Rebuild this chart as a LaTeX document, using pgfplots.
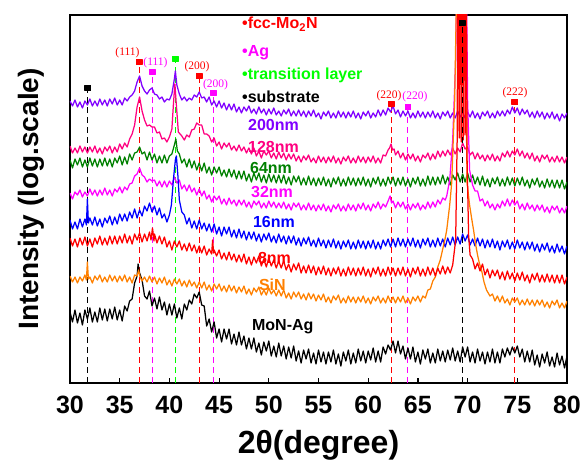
\documentclass[border=0pt]{standalone}
\usepackage{fontspec}
\setmainfont{Liberation Sans}
\newfontfamily\idxfont{Liberation Serif}
\usepackage{pgfplots}
\pgfplotsset{compat=1.18}
\usetikzlibrary{calc}

\definecolor{cviolet}{RGB}{128,0,255}
\definecolor{cpink}{RGB}{255,0,128}
\definecolor{cgreen}{RGB}{0,128,0}
\definecolor{cmag}{RGB}{255,0,255}
\definecolor{cblue}{RGB}{0,0,255}
\definecolor{cred}{RGB}{255,0,0}
\definecolor{corange}{RGB}{255,128,0}
\definecolor{clime}{RGB}{0,255,0}

\begin{document}
\begin{tikzpicture}[
	idx/.style={font=\idxfont\fontsize{11.5}{12}\selectfont, inner sep=0pt},
	lab/.style={font=\fontsize{16}{16}\selectfont\bfseries, anchor=west, inner sep=0pt},
]
\begin{axis}[
	name=ax,
	scale only axis,
	width=497pt, height=368pt,
	xmin=30, xmax=80, ymin=17, ymax=385,
	xtick={30,35,...,80}, ytick=\empty,
	xtick pos=bottom, tick align=inside,
	major tick length=5pt,
	every tick/.style={black, line width=1.2pt},
	axis line style={line width=1.6pt},
	/pgf/number format/assume math mode=true,
	xticklabel style={font=\fontsize{25}{25}\selectfont\bfseries, anchor=center, inner sep=0pt, yshift=-22pt},
	xlabel={2θ(degree)},
	ylabel={Intensity (log.scale)},
	xlabel style={font=\fontsize{32}{32}\selectfont\bfseries, at={(axis description cs:0.5,-0.168)}, anchor=center},
	ylabel style={font=\fontsize{28}{28}\selectfont\bfseries, at={(axis description cs:-0.078,0.5)}, anchor=center},
	every axis plot/.append style={line width=1.25pt, line join=round},
]

% reference lines (drawn under the patterns)
\addplot[black, line width=1pt, dash pattern=on 6pt off 4pt] coordinates {(31.8,17)(31.8,312)};
\addplot[cred, line width=1pt, dash pattern=on 6pt off 4pt] coordinates {(36.95,17)(36.95,338)};
\addplot[cmag, line width=1pt, dash pattern=on 6pt off 4pt] coordinates {(38.3,17)(38.3,328)};
\addplot[clime, line width=1pt, dash pattern=on 6pt off 4pt] coordinates {(40.6,17)(40.6,341)};
\addplot[cred, line width=1pt, dash pattern=on 6pt off 4pt] coordinates {(43.0,17)(43.0,324)};
\addplot[cmag, line width=1pt, dash pattern=on 6pt off 4pt] coordinates {(44.45,17)(44.45,307)};
\addplot[cred, line width=1pt, dash pattern=on 6pt off 4pt] coordinates {(62.35,17)(62.35,296)};
\addplot[cmag, line width=1pt, dash pattern=on 6pt off 4pt] coordinates {(64.0,17)(64.0,293)};
\addplot[cred, line width=1pt, dash pattern=on 6pt off 4pt] coordinates {(74.75,17)(74.75,298)};

% MoN-Ag
\addplot[black] coordinates {
(30,88)(30.25,78)(30.5,90)(30.75,77)(31,87)(31.25,75)(31.5,90)(31.75,81)(32,92)(32.25,78)(32.5,88)(32.75,78)(33,92)(33.25,80)(33.5,91)(33.75,79)
(34,91)(34.25,81)(34.5,93)(34.75,80)(35,90)(35.25,79)(35.5,94)(35.75,89)(36,99)(36.25,101)(36.5,117)(36.75,124)(36.85,136)(37,127)(37.25,120)(37.5,104)
(37.75,101)(38,109)(38.25,94)(38.5,102)(38.75,91)(39,103)(39.25,90)(39.5,98)(39.75,85)(40,96)(40.25,85)(40.5,96)(40.75,82)(41,92)(41.25,81)(41.5,96)
(41.75,90)(42,100)(42.25,96)(42.5,106)(42.75,102)(43,108)(43.25,95)(43.5,94)(43.75,74)(44,81)(44.25,68)(44.5,78)(44.75,62)(45,71)(45.25,58)(45.5,71)
(45.75,61)(46,71)(46.25,56)(46.5,66)(46.75,55)(47,68)(47.25,55)(47.5,64)(47.75,51)(48,62)(48.25,51)(48.5,62)(48.75,48)(49,57)(49.25,45)(49.5,58)
(49.75,49)(50,59)(50.25,44)(50.5,54)(50.75,43)(51,57)(51.25,44)(51.5,54)(51.75,41)(52,53)(52.25,42)(52.5,54)(52.75,39)(53,49)(53.25,37)(53.5,50)
(53.75,41)(54,51)(54.25,37)(54.5,47)(54.75,36)(55,50)(55.25,38)(55.5,48)(55.75,36)(56,48)(56.25,38)(56.5,50)(56.75,36)(57,46)(57.25,34)(57.5,48)
(57.75,39)(58,50)(58.25,36)(58.5,47)(58.75,37)(59,51)(59.25,39)(59.5,49)(59.75,37)(60,49)(60.25,40)(60.5,52)(60.75,38)(61,49)(61.25,38)(61.5,53)
(61.75,46)(62,55)(62.25,50)(62.5,59)(62.75,47)(63,59)(63.25,46)(63.5,54)(63.75,41)(64,52)(64.25,41)(64.5,53)(64.75,38)(65,48)(65.25,36)(65.5,50)
(65.75,41)(66,51)(66.25,37)(66.5,47)(66.75,37)(67,51)(67.25,39)(67.5,49)(67.75,38)(68,50)(68.25,40)(68.5,52)(68.75,39)(69,49)(69.25,38)(69.5,53)
(69.75,43)(70,53)(70.25,38)(70.5,48)(70.75,37)(71,51)(71.25,39)(71.5,48)(71.75,36)(72,48)(72.25,38)(72.5,51)(72.75,37)(73,48)(73.25,37)(73.5,51)
(73.75,43)(74,52)(74.25,45)(74.5,53)(74.75,47)(75,54)(75.25,43)(75.5,51)(75.75,38)(76,49)(76.25,38)(76.5,50)(76.75,35)(77,45)(77.25,33)(77.5,46)
(77.75,37)(78,48)(78.25,34)(78.5,43)(78.75,33)(79,47)(79.25,35)(79.5,44)(79.75,32)(80,44)};

% 200nm
\addplot[cviolet] coordinates {
(30,299)(30.25,294)(30.5,300)(30.75,293)(31,298)(31.25,292)(31.5,299)(31.75,295)(32,301)(32.25,294)(32.5,299)(32.75,294)(33,301)(33.25,295)(33.5,300)(33.75,294)
(34,301)(34.25,296)(34.5,302)(34.75,295)(35,300)(35.25,295)(35.5,302)(35.75,299)(36,303)(36.25,305)(36.5,309)(36.75,318)(37,324)(37.25,314)(37.5,309)(37.75,306)
(38,310)(38.25,312)(38.5,306)(38.75,305)(39,301)(39.25,303)(39.5,298)(39.75,301)(40,300)(40.25,306)(40.5,321)(40.6,329)(40.75,315)(41,306)(41.25,300)(41.5,303)
(41.75,299)(42,302)(42.25,300)(42.5,305)(42.75,303)(43,308)(43.25,302)(43.5,303)(43.75,298)(44,303)(44.25,295)(44.5,299)(44.75,293)(45,299)(45.25,292)(45.5,297)
(45.75,290)(46,296)(46.25,290)(46.5,296)(46.75,288)(47,293)(47.25,287)(47.5,293)(47.75,289)(48,294)(48.25,287)(48.5,291)(48.75,286)(49,293)(49.25,287)(49.5,291)
(49.75,285)(50,291)(50.25,286)(50.5,292)(50.75,285)(51,289)(51.25,284)(51.5,290)(51.75,286)(52,291)(52.25,284)(52.5,289)(52.75,284)(53,290)(53.25,284)(53.5,289)
(53.75,283)(54,289)(54.25,284)(54.5,290)(54.75,283)(55,287)(55.25,281)(55.5,288)(55.75,284)(56,289)(56.25,282)(56.5,287)(56.75,282)(57,289)(57.25,283)(57.5,288)
(57.75,282)(58,288)(58.25,283)(58.5,289)(58.75,282)(59,287)(59.25,281)(59.5,288)(59.75,284)(60,289)(60.25,282)(60.5,287)(60.75,283)(61,290)(61.25,284)(61.5,290)
(61.75,285)(62,292)(62.25,288)(62.5,294)(62.75,286)(63,290)(63.25,283)(63.5,289)(63.75,284)(64,289)(64.25,282)(64.5,287)(64.75,282)(65,289)(65.25,283)(65.5,288)
(65.75,282)(66,288)(66.25,283)(66.5,289)(66.75,282)(67,287)(67.25,281)(67.5,288)(67.75,284)(68,289)(68.25,282)(68.5,287)(68.75,282)(69,289)(69.25,283)(69.5,288)
(69.75,282)(70,288)(70.25,283)(70.5,289)(70.75,282)(71,287)(71.25,281)(71.5,288)(71.75,284)(72,289)(72.25,282)(72.5,287)(72.75,282)(73,289)(73.25,284)(73.5,289)
(73.75,284)(74,290)(74.25,286)(74.5,293)(74.75,287)(75,292)(75.25,285)(75.5,291)(75.75,286)(76,290)(76.25,283)(76.5,288)(76.75,282)(77,289)(77.25,283)(77.5,288)
(77.75,281)(78,287)(78.25,282)(78.5,288)(78.75,281)(79,286)(79.25,279)(79.5,286)(79.75,282)(80,287)};

% 128nm
\addplot[cpink] coordinates {
(30,254)(30.25,247)(30.5,252)(30.75,247)(31,254)(31.25,248)(31.5,253)(31.75,247)(32,253)(32.25,248)(32.5,254)(32.75,247)(33,252)(33.25,246)(33.5,253)(33.75,249)
(34,254)(34.25,247)(34.5,253)(34.75,248)(35,256)(35.25,251)(35.5,257)(35.75,253)(36,261)(36.25,266)(36.5,275)(36.75,293)(37,303)(37.25,289)(37.5,280)(37.75,274)
(38,275)(38.25,273)(38.5,273)(38.75,267)(39,268)(39.25,261)(39.5,262)(39.75,258)(40,263)(40.25,271)(40.4,295)(40.55,316)(40.7,295)(40.9,268)(41.25,264)(41.5,260)
(41.75,265)(42,263)(42.25,270)(42.5,271)(42.75,277)(43,275)(43.25,275)(43.5,266)(43.75,266)(44,264)(44.25,258)(44.5,262)(44.75,254)(45,258)(45.25,251)(45.5,257)
(45.75,253)(46,257)(46.25,250)(46.5,254)(46.75,249)(47,255)(47.25,249)(47.5,253)(47.75,247)(48,252)(48.25,246)(48.5,252)(48.75,244)(49,249)(49.25,242)(49.5,249)
(49.75,245)(50,249)(50.25,242)(50.5,247)(50.75,241)(51,248)(51.25,242)(51.5,247)(51.75,240)(52,246)(52.25,241)(52.5,246)(52.75,239)(53,244)(53.25,238)(53.5,244)
(53.75,240)(54,245)(54.25,238)(54.5,242)(54.75,237)(55,244)(55.25,238)(55.5,243)(55.75,237)(56,243)(56.25,238)(56.5,244)(56.75,237)(57,242)(57.25,236)(57.5,243)
(57.75,239)(58,244)(58.25,237)(58.5,242)(58.75,237)(59,244)(59.25,238)(59.5,243)(59.75,237)(60,243)(60.25,238)(60.5,244)(60.75,237)(61,242)(61.25,237)(61.5,245)
(61.75,244)(62,250)(62.15,252)(62.3,256)(62.45,250)(62.6,251)(62.75,245)(63,249)(63.25,242)(63.5,247)(63.75,240)(64,246)(64.25,241)(64.5,246)(64.75,239)(65,244)
(65.25,238)(65.5,245)(65.75,242)(66,247)(66.25,240)(66.5,246)(66.75,241)(67,249)(67.25,243)(67.5,249)(67.75,244)(68,250)(68.25,245)(68.5,252)(68.75,246)(69,252)
(69.25,248)(69.5,257)(69.75,251)(70,253)(70.25,245)(70.5,248)(70.75,241)(71,247)(71.25,241)(71.5,245)(71.75,239)(72,245)(72.25,240)(72.5,246)(72.75,239)(73,244)
(73.25,239)(73.5,247)(73.75,243)(74,249)(74.25,243)(74.5,249)(74.75,245)(75,251)(75.25,244)(75.5,249)(75.75,242)(76,247)(76.25,241)(76.5,247)(76.75,239)(77,244)
(77.25,238)(77.5,245)(77.75,241)(78,245)(78.25,238)(78.5,243)(78.75,238)(79,244)(79.25,238)(79.5,243)(79.75,237)(80,243)};

% 64nm
\addplot[cgreen] coordinates {
(30,240)(30.25,232)(30.5,241)(30.75,235)(31,242)(31.25,233)(31.5,240)(31.75,233)(32,242)(32.25,234)(32.5,241)(32.75,233)(33,241)(33.25,234)(33.5,242)(33.75,234)
(34,241)(34.25,233)(34.5,242)(34.75,237)(35,244)(35.25,235)(35.5,243)(35.75,236)(36,246)(36.25,240)(36.5,247)(36.75,248)(37,253)(37.25,246)(37.5,248)(37.75,240)
(38,248)(38.25,240)(38.5,246)(38.75,237)(39,244)(39.25,237)(39.5,245)(39.75,237)(40,244)(40.25,246)(40.5,255)(40.65,261)(40.8,249)(41,246)(41.25,237)(41.5,241)
(41.75,233)(42,241)(42.25,232)(42.5,239)(42.75,230)(43,237)(43.25,229)(43.5,237)(43.75,227)(44,233)(44.25,225)(44.5,233)(44.75,227)(45,233)(45.25,224)(45.5,230)
(45.75,223)(46,231)(46.25,223)(46.5,230)(46.75,221)(47,229)(47.25,221)(47.5,229)(47.75,219)(48,226)(48.25,218)(48.5,227)(48.75,220)(49,227)(49.25,218)(49.5,225)
(49.75,217)(50,226)(50.25,218)(50.5,225)(50.75,217)(51,225)(51.25,217)(51.5,225)(51.75,216)(52,223)(52.25,215)(52.5,224)(52.75,218)(53,224)(53.25,215)(53.5,222)
(53.75,215)(54,224)(54.25,215)(54.5,222)(54.75,214)(55,222)(55.25,215)(55.5,223)(55.75,214)(56,221)(56.25,213)(56.5,222)(56.75,216)(57,223)(57.25,214)(57.5,221)
(57.75,214)(58,223)(58.25,215)(58.5,222)(58.75,214)(59,222)(59.25,215)(59.5,223)(59.75,214)(60,221)(60.25,213)(60.5,222)(60.75,216)(61,223)(61.25,214)(61.5,221)
(61.75,214)(62,223)(62.25,216)(62.5,223)(62.75,214)(63,222)(63.25,215)(63.5,223)(63.75,214)(64,221)(64.25,213)(64.5,222)(64.75,216)(65,223)(65.25,214)(65.5,221)
(65.75,214)(66,224)(66.25,215)(66.5,223)(66.75,215)(67,223)(67.25,216)(67.5,225)(67.75,216)(68,223)(68.25,215)(68.5,225)(68.75,220)(69,227)(69.25,218)(69.5,226)
(69.75,218)(70,227)(70.25,218)(70.5,225)(70.75,216)(71,223)(71.25,215)(71.5,224)(71.75,214)(72,221)(72.25,213)(72.5,222)(72.75,216)(73,223)(73.25,214)(73.5,221)
(73.75,214)(74,223)(74.25,215)(74.5,222)(74.75,214)(75,222)(75.25,215)(75.5,223)(75.75,214)(76,220)(76.25,212)(76.5,221)(76.75,215)(77,222)(77.25,213)(77.5,219)
(77.75,212)(78,221)(78.25,213)(78.5,220)(78.75,212)(79,220)(79.25,212)(79.5,220)(79.75,211)(80,218)};

% 32nm
\addplot[cmag] coordinates {
(30,207)(30.25,201)(30.5,208)(30.75,205)(31,210)(31.25,203)(31.5,208)(31.75,204)(32,211)(32.25,205)(32.5,210)(32.75,204)(33,210)(33.25,205)(33.5,212)(33.75,205)
(34,210)(34.25,204)(34.5,211)(34.75,208)(35,213)(35.25,207)(35.5,213)(35.75,210)(36,216)(36.25,217)(36.5,224)(36.75,226)(37,232)(37.25,225)(37.5,223)(37.75,218)
(38,221)(38.25,219)(38.5,220)(38.75,214)(39,219)(39.25,213)(39.5,219)(39.75,213)(40,219)(40.25,215)(40.5,223)(40.75,217)(41,220)(41.25,211)(41.5,215)(41.75,209)
(42,215)(42.25,208)(42.5,212)(42.75,205)(43,211)(43.25,204)(43.5,209)(43.75,201)(44,205)(44.25,198)(44.5,204)(44.75,200)(45,204)(45.25,196)(45.5,201)(45.75,195)
(46,202)(46.25,196)(46.5,200)(46.75,194)(47,200)(47.25,195)(47.5,200)(47.75,193)(48,198)(48.25,192)(48.5,199)(48.75,195)(49,199)(49.25,192)(49.5,197)(49.75,192)
(50,199)(50.25,193)(50.5,198)(50.75,192)(51,197)(51.25,192)(51.5,198)(51.75,191)(52,196)(52.25,190)(52.5,197)(52.75,193)(53,197)(53.25,190)(53.5,195)(53.75,190)
(54,197)(54.25,190)(54.5,195)(54.75,189)(55,195)(55.25,190)(55.5,196)(55.75,189)(56,194)(56.25,188)(56.5,195)(56.75,191)(57,196)(57.25,189)(57.5,194)(57.75,189)
(58,196)(58.25,190)(58.5,195)(58.75,189)(59,196)(59.25,191)(59.5,197)(59.75,190)(60,195)(60.25,189)(60.5,196)(60.75,192)(61,198)(61.25,191)(61.5,196)(61.75,193)
(62,199)(62.2,204)(62.35,197)(62.5,199)(62.75,192)(63,198)(63.25,193)(63.5,198)(63.75,191)(64,196)(64.25,190)(64.5,196)(64.75,192)(65,197)(65.25,190)(65.5,195)
(65.75,191)(66,198)(66.25,192)(66.5,198)(66.75,193)(67,200)(67.25,196)(67.5,202)(67.75,200)(67.9,204)(68.2,220)(68.5,260)(68.8,340)(69,500)(69.8,500)(70,300)
(70.2,230)(70.5,215)(70.75,209)(71,209)(71.25,199)(71.5,201)(71.75,194)(72,199)(72.25,192)(72.5,196)(72.75,190)(73,196)(73.25,192)(73.5,199)(73.75,194)(74,201)
(74.25,194)(74.5,200)(74.75,195)(75,199)(75.25,191)(75.5,196)(75.75,190)(76,197)(76.25,191)(76.5,195)(76.75,189)(77,195)(77.25,190)(77.5,195)(77.75,188)(78,193)
(78.25,187)(78.5,194)(78.75,190)(79,194)(79.25,187)(79.5,192)(79.75,187)(80,194)};

% 16nm
\addplot[cblue] coordinates {
(30,180)(30.25,171)(30.5,178)(30.75,171)(31,181)(31.25,173)(31.5,181)(31.65,175)(31.75,201)(31.85,177)(32,182)(32.25,175)(32.5,183)(32.75,174)(33,181)(33.25,173)
(33.5,182)(33.75,177)(34,184)(34.25,175)(34.5,183)(34.75,176)(35,186)(35.25,179)(35.5,186)(35.75,179)(36,188)(36.25,182)(36.5,191)(36.75,182)(37,190)(37.25,184)
(37.5,194)(37.75,189)(38,197)(38.25,188)(38.5,194)(38.75,185)(39,192)(39.25,182)(39.5,186)(39.75,178)(40,185)(40.2,195)(40.4,220)(40.6,240)(40.7,244)(40.85,225)
(41,200)(41.25,188)(41.5,185)(41.75,176)(42,182)(42.25,172)(42.5,179)(42.75,171)(43,180)(43.25,171)(43.5,177)(43.75,169)(44,176)(44.25,168)(44.5,176)(44.75,166)
(45,173)(45.25,164)(45.5,173)(45.75,166)(46,173)(46.25,163)(46.5,170)(46.75,162)(47,171)(47.25,162)(47.5,169)(47.75,160)(48,168)(48.25,161)(48.5,168)(48.75,159)
(49,166)(49.25,158)(49.5,166)(49.75,160)(50,167)(50.25,158)(50.5,164)(50.75,157)(51,166)(51.25,158)(51.5,164)(51.75,156)(52,164)(52.25,157)(52.5,164)(52.75,155)
(53,162)(53.25,154)(53.5,162)(53.75,156)(54,163)(54.25,154)(54.5,160)(54.75,153)(55,162)(55.25,154)(55.5,160)(55.75,152)(56,160)(56.25,153)(56.5,161)(56.75,152)
(57,159)(57.25,151)(57.5,159)(57.75,153)(58,160)(58.25,151)(58.5,158)(58.75,151)(59,160)(59.25,152)(59.5,159)(59.75,151)(60,159)(60.25,152)(60.5,160)(60.75,151)
(61,158)(61.25,151)(61.5,160)(61.75,154)(62,161)(62.25,153)(62.5,161)(62.75,153)(63,162)(63.25,154)(63.5,161)(63.75,153)(64,161)(64.25,154)(64.5,162)(64.75,153)
(65,160)(65.25,152)(65.5,161)(65.75,155)(66,162)(66.25,153)(66.5,160)(66.75,153)(67,162)(67.25,154)(67.5,161)(67.75,153)(68,162)(68.25,155)(68.5,163)(68.75,155)
(69,163)(69.25,156)(69.5,166)(69.75,159)(70,165)(70.25,155)(70.5,161)(70.75,154)(71,162)(71.25,154)(71.5,161)(71.75,152)(72,160)(72.25,153)(72.5,161)(72.75,152)
(73,159)(73.25,150)(73.5,159)(73.75,153)(74,160)(74.25,151)(74.5,158)(74.75,151)(75,160)(75.25,152)(75.5,158)(75.75,150)(76,158)(76.25,151)(76.5,158)(76.75,149)
(77,156)(77.25,148)(77.5,156)(77.75,150)(78,157)(78.25,148)(78.5,154)(78.75,147)(79,156)(79.25,148)(79.5,154)(79.75,146)(80,154)};

% SiN
\addplot[corange] coordinates {
(30,124)(30.25,118)(30.5,123)(30.75,117)(31,123)(31.25,119)(31.5,125)(31.65,120)(31.75,138)(31.85,121)(32,123)(32.25,117)(32.5,124)(32.75,120)(33,125)(33.25,118)
(33.5,123)(33.75,118)(34,125)(34.25,119)(34.5,124)(34.75,118)(35,124)(35.25,119)(35.5,125)(35.75,118)(36,123)(36.25,117)(36.5,125)(36.75,124)(36.9,130)(37.05,123)
(37.25,119)(37.5,123)(37.75,118)(38,124)(38.25,118)(38.5,123)(38.75,116)(39,122)(39.25,117)(39.5,123)(39.75,115)(40,120)(40.25,114)(40.5,121)(40.75,116)(41,121)
(41.25,114)(41.5,119)(41.75,113)(42,120)(42.25,114)(42.5,118)(42.75,112)(43,118)(43.25,112)(43.5,118)(43.75,110)(44,115)(44.25,109)(44.5,116)(44.75,111)(45,116)
(45.25,109)(45.5,114)(45.75,108)(46,115)(46.25,109)(46.5,114)(46.75,107)(47,113)(47.25,108)(47.5,114)(47.75,106)(48,111)(48.25,105)(48.5,112)(48.75,108)(49,113)
(49.25,105)(49.5,110)(49.75,105)(50,112)(50.25,106)(50.5,110)(50.75,104)(51,110)(51.25,104)(51.5,110)(51.75,102)(52,107)(52.25,101)(52.5,108)(52.75,103)(53,108)
(53.25,101)(53.5,106)(53.75,100)(54,107)(54.25,101)(54.5,106)(54.75,99)(55,105)(55.25,100)(55.5,106)(55.75,98)(56,103)(56.25,97)(56.5,104)(56.75,100)(57,105)
(57.25,97)(57.5,102)(57.75,97)(58,104)(58.25,98)(58.5,103)(58.75,97)(59,103)(59.25,98)(59.5,104)(59.75,97)(60,102)(60.25,96)(60.5,103)(60.75,99)(61,104)
(61.25,97)(61.5,102)(61.75,97)(62,104)(62.25,98)(62.5,103)(62.75,97)(63,103)(63.25,98)(63.5,104)(63.75,97)(64,102)(64.25,96)(64.5,103)(64.75,99)(65,104)
(65.25,98)(65.5,104)(65.75,102)(66,110)(66.25,111)(66.5,119)(66.75,123)(67,133)(67.25,140)(67.5,151)(67.75,162)(67.9,170)(68.2,195)(68.4,217)(68.7,300)(68.85,385)
(69,500)(69.6,500)(69.75,385)(69.85,300)(69.95,217)(70.2,195)(70.4,182)(70.6,170)(70.8,156)(71,145)(71.2,136)(71.4,130)(71.65,118)(71.9,110)(72.25,104)(72.5,106)
(72.75,99)(73,104)(73.25,98)(73.5,104)(73.75,97)(74,101)(74.25,95)(74.5,102)(74.75,98)(75,102)(75.25,95)(75.5,100)(75.75,95)(76,101)(76.25,95)(76.5,100)
(76.75,94)(77,100)(77.25,95)(77.5,100)(77.75,93)(78,98)(78.25,92)(78.5,99)(78.75,95)(79,100)(79.25,92)(79.5,97)(79.75,92)(80,99)};

% 8nm
\addplot[cred] coordinates {
(30,162)(30.25,154)(30.5,161)(30.75,153)(31,162)(31.25,155)(31.5,163)(31.75,154)(32,161)(32.25,153)(32.5,162)(32.75,156)(33,164)(33.25,155)(33.5,162)(33.75,155)
(34,164)(34.25,156)(34.5,164)(34.75,156)(35,164)(35.25,157)(35.5,166)(35.75,157)(36,164)(36.25,156)(36.5,166)(36.75,160)(37,167)(37.25,158)(37.5,166)(37.75,159)
(38,168)(38.15,160)(38.3,172)(38.45,159)(38.5,166)(38.75,157)(39,164)(39.25,156)(39.5,163)(39.75,153)(40,159)(40.25,150)(40.5,159)(40.75,153)(41,159)(41.25,150)
(41.5,156)(41.75,149)(42,157)(42.25,149)(42.5,155)(42.75,147)(43,154)(43.25,147)(43.5,154)(43.75,145)(44,151)(44.25,146)(44.35,160)(44.45,147)(44.5,150)(44.75,144)
(45,150)(45.25,141)(45.5,147)(45.75,140)(46,148)(46.25,140)(46.5,146)(46.75,138)(47,145)(47.25,138)(47.5,146)(47.75,136)(48,143)(48.25,135)(48.5,143)(48.75,137)
(49,144)(49.25,134)(49.5,141)(49.75,133)(50,142)(50.25,134)(50.5,140)(50.75,132)(51,139)(51.25,132)(51.5,139)(51.75,130)(52,136)(52.25,128)(52.5,136)(52.75,130)
(53,137)(53.25,127)(53.5,134)(53.75,127)(54,135)(54.25,127)(54.5,134)(54.75,125)(55,133)(55.25,126)(55.5,134)(55.75,125)(56,132)(56.25,124)(56.5,132)(56.75,126)
(57,133)(57.25,124)(57.5,131)(57.75,124)(58,133)(58.25,125)(58.5,132)(58.75,124)(59,132)(59.25,125)(59.5,133)(59.75,124)(60,131)(60.25,123)(60.5,132)(60.75,126)
(61,133)(61.25,124)(61.5,131)(61.75,124)(62,133)(62.25,125)(62.5,132)(62.75,124)(63,132)(63.25,125)(63.5,133)(63.75,124)(64,131)(64.25,123)(64.5,132)(64.75,126)
(65,133)(65.25,124)(65.5,131)(65.75,124)(66,133)(66.25,125)(66.5,132)(66.75,124)(67,132)(67.25,126)(67.5,134)(67.75,126)(68,133)(68.25,127)(68.5,135)(68.8,160)
(68.95,260)(69.05,500)(69.15,262)(69.25,500)(69.35,258)(69.45,500)(69.55,260)(69.65,500)(69.75,265)(69.85,500)(69.95,240)(70.1,165)(70.25,145)(70.5,141)(70.75,131)(71,137)
(71.25,129)(71.5,136)(71.75,125)(72,131)(72.25,122)(72.5,130)(72.75,124)(73,130)(73.25,121)(73.5,128)(73.75,120)(74,129)(74.25,121)(74.5,127)(74.75,119)(75,127)
(75.25,120)(75.5,128)(75.75,119)(76,125)(76.25,117)(76.5,126)(76.75,120)(77,127)(77.25,118)(77.5,125)(77.75,118)(78,126)(78.25,118)(78.5,125)(78.75,117)(79,125)
(79.25,117)(79.5,125)(79.75,116)(80,123)};

% substrate line on top of the band
\addplot[black, line width=1pt, dash pattern=on 6pt off 4pt] coordinates {(69.45,17)(69.45,377)};

% peak markers
\addplot[only marks, mark=square*, mark size=2.8pt, cred] coordinates {(36.95,338)(43.0,324)(62.35,296)(74.75,298)};
\addplot[only marks, mark=square*, mark size=2.8pt, cmag] coordinates {(38.3,328)(44.45,307)(64.0,293)};
\addplot[only marks, mark=square*, mark size=2.8pt, clime] coordinates {(40.6,341)};
\addplot[only marks, mark=square*, mark size=2.8pt, black] coordinates {(31.8,312)(69.45,377)};

% Miller indices
\node[idx, text=cred] at (axis cs:35.78,347) {(111)};
\node[idx, text=cmag] at (axis cs:38.6,337) {(111)};
\node[idx, text=cred] at (axis cs:42.78,333) {(200)};
\node[idx, text=cmag] at (axis cs:44.64,315) {(200)};
\node[idx, text=cred] at (axis cs:62.09,304) {(220)};
\node[idx, text=cmag] at (axis cs:64.7,303) {(220)};
\node[idx, text=cred] at (axis cs:74.77,307) {(222)};

% phase key
\node[lab, text=cred] at (axis cs:47.3,376) {\textbullet fcc-Mo\textsubscript{2}N};
\node[lab, text=cmag] at (axis cs:47.3,347) {\textbullet Ag};
\node[lab, text=clime] at (axis cs:47.3,325) {\textbullet transition layer};
\node[lab, text=black] at (axis cs:47.3,303) {\textbullet substrate};

% sample names
\node[lab, text=cviolet] at (axis cs:47.9,275) {200nm};
\node[lab, text=cpink] at (axis cs:47.9,253) {128nm};
\node[lab, text=cgreen] at (axis cs:48.1,232) {64nm};
\node[lab, text=cmag] at (axis cs:48.2,208) {32nm};
\node[lab, text=cblue] at (axis cs:48.4,178) {16nm};
\node[lab, text=cred] at (axis cs:48.9,142) {8nm};
\node[lab, text=corange] at (axis cs:49.0,115) {SiN};
\node[lab, text=black] at (axis cs:48.3,73) {MoN-Ag};
\end{axis}
\pgfresetboundingbox
\path[use as bounding box] ($(ax.south west)+(-70pt,-79pt)$) rectangle ($(ax.north east)+(18pt,15pt)$);
\end{tikzpicture}
\end{document}
